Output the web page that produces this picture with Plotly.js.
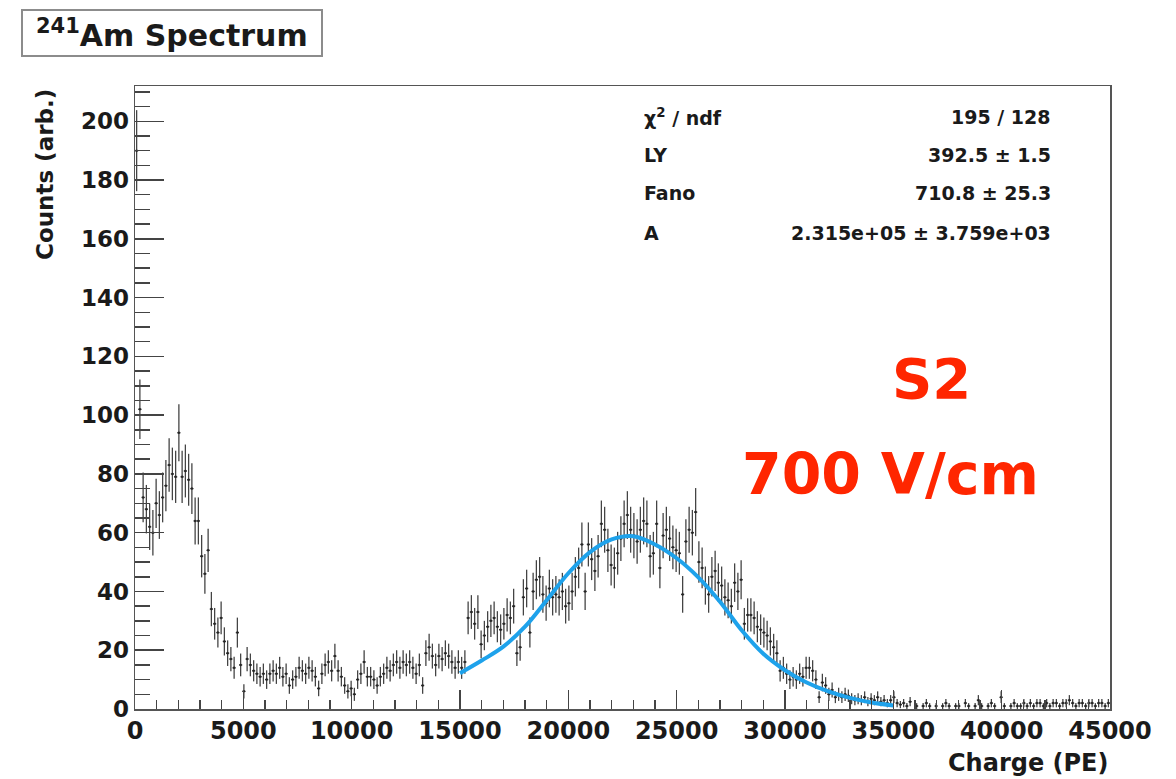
<!DOCTYPE html>
<html>
<head>
<meta charset="utf-8">
<script src="https://cdn.plot.ly/plotly-3.0.1.min.js"></script>
<style>
  html, body { margin: 0; padding: 0; background: #ffffff; }
  #chart { width: 1176px; height: 779px; }
</style>
</head>
<body>
<div id="chart"></div>
<script>
// ---------- Data ----------
const histXMin = 0;
const histXMax = 45000;
const histNBins = 300;

// Bin contents, bin 0 .. 299 (bin width 150 PE)
const counts = [
  190, 102, 72, 68, 62, 60, 70, 66, 72, 76,
  83, 80, 79, 94, 79, 81, 78, 75, 64, 64,
  52, 46, 54, 34, 29, 26, 31, 23, 19, 17,
  14, 26, 15, 6, 17, 15, 13, 12, 11, 12,
  10, 12, 13, 12, 14, 11, 12, 8, 10, 11,
  14, 13, 12, 14, 13, 11, 7, 12, 15, 16,
  13, 18, 13, 11, 8, 6, 7, 5, 10, 12,
  16, 11, 11, 10, 8, 11, 12, 14, 13, 15,
  16, 14, 16, 15, 16, 14, 12, 15, 8, 19,
  21, 18, 15, 18, 17, 19, 18, 16, 14, 16,
  14, 16, 31, 33, 29, 33, 22, 25, 28, 30,
  31, 28, 27, 29, 32, 31, 35, 19, 21, 38,
  41, 26, 40, 44, 45, 39, 36, 41, 38, 39,
  38, 40, 35, 36, 40, 45, 48, 56, 40, 56,
  51, 47, 52, 63, 61, 54, 49, 48, 53, 58,
  63, 66, 61, 59, 57, 61, 64, 63, 52, 53,
  63, 48, 59, 61, 58, 55, 54, 53, 39, 57,
  61, 60, 67, 50, 48, 42, 39, 45, 47, 43,
  42, 38, 37, 35, 43, 40, 44, 29, 32, 32,
  31, 28, 27, 26, 25, 23, 21, 19, 13, 14,
  12, 10, 11, 10, 12, 11, 14, 14, 13, 10,
  4, 9, 8, 5, 6.5, 4, 5, 4, 5, 4.5,
  3.5, 3, 3.5, 3, 4, 2.5, 3.5, 3, 4, 2.5,
  3, 2, 3, 4, 2, 1.5, 2, 1, 2.5, 0,
  1, 0, 1, 2, 1, 0, 1, 0, 1, 2,
  1, 0, 1, 1, 0, 2, 1, 0, 1, 3,
  1, 0, 1, 2, 1, 0, 4, 1, 0, 1,
  2, 1, 1, 2, 1, 2, 1, 2, 2, 1,
  2, 1, 2, 2, 1, 2, 2, 3, 2, 1,
  2, 2, 1, 2, 2, 1, 2, 2, 1, 2
];

// Fit curve, points
const fitX = [15000, 16000, 17000, 18000, 19000, 20000, 21000, 22000, 23000, 24000,
              25000, 26000, 27000, 28000, 29000, 30000, 31000, 32000, 33000, 34000, 35000];
const fitY = [12.2, 16.5, 21.2, 28.0, 37.0, 46.2, 53.4, 57.7, 58.8, 56.0,
              51.3, 44.8, 36.5, 26.8, 18.8, 13.2, 9.0, 6.0, 3.8, 2.2, 1.2];

// Stats box
const statNames = ["χ<sup>2</sup> / ndf", "LY", "Fano", "A"];
const statValues = ["195 / 128", "392.5 ± 1.5", "710.8 ± 25.3", "2.315e+05 ± 3.759e+03"];

const xTickVals = [0, 5000, 10000, 15000, 20000, 25000, 30000, 35000, 40000, 45000];
const yTickVals = [0, 20, 40, 60, 80, 100, 120, 140, 160, 180, 200];

// ---------- Build traces ----------
const binWidth = (histXMax - histXMin) / histNBins;
const centers = counts.map((_, i) => histXMin + (i + 0.5) * binWidth);
const yShown = counts.map(v => (v > 0 ? v : null));
const yErr = counts.map(v => (v > 0 ? Math.sqrt(v) : null));

const dataColor = 'rgba(35,35,35,0.85)';

const histTrace = {
  type: 'scatter',
  mode: 'markers',
  x: centers,
  y: yShown,
  marker: { color: dataColor, size: 2.5 },
  error_y: { type: 'data', array: yErr, visible: true, thickness: 1.3, width: 0, color: dataColor },
  error_x: { type: 'constant', value: binWidth / 2, visible: true, thickness: 1.3, width: 0, color: dataColor },
  hoverinfo: 'x+y',
  showlegend: false,
  cliponaxis: true
};

const fitTrace = {
  type: 'scatter',
  mode: 'lines',
  x: fitX,
  y: fitY,
  line: { color: 'rgb(30,162,235)', width: 4, shape: 'spline', smoothing: 1 },
  showlegend: false,
  hoverinfo: 'skip'
};

// ---------- Layout ----------
const W = 1176, H = 779;
const L = 135, R = 66, T = 86, B = 70;
const pw = W - L - R, ph = H - T - B;
const px = x => (x - L) / pw;          // pixel -> paper x
const py = y => (H - B - y) / ph;      // pixel -> paper y

const FONT = 'DejaVu Sans, Liberation Sans, Arial, sans-serif';
const txt = '#1a1a1a';

const annotations = [];
// Title
annotations.push({
  xref: 'paper', yref: 'paper', x: px(172), y: py(33),
  xanchor: 'center', yanchor: 'middle', showarrow: false,
  text: '<sup>241</sup>Am Spectrum',
  font: { family: FONT, size: 30, color: txt, weight: 'bold' }
});
// Axis titles
annotations.push({
  xref: 'paper', yref: 'paper', x: px(45), y: py(175),
  xanchor: 'center', yanchor: 'middle', showarrow: false, textangle: -90,
  text: 'Counts (arb.)',
  font: { family: FONT, size: 23, color: txt, weight: 'bold' }
});
annotations.push({
  xref: 'paper', yref: 'paper', x: px(1110), y: py(763),
  xanchor: 'right', yanchor: 'middle', showarrow: false,
  text: 'Charge (PE)',
  font: { family: FONT, size: 24, color: txt, weight: 'bold' }
});
// Stats
const statRowsY = [117, 155, 193, 233];
statNames.forEach((n, i) => {
  annotations.push({
    xref: 'paper', yref: 'paper', x: px(642), y: py(statRowsY[i]),
    xanchor: 'left', yanchor: 'middle', showarrow: false, text: n,
    font: { family: FONT, size: 19, color: txt, weight: 'bold' }
  });
  annotations.push({
    xref: 'paper', yref: 'paper', x: px(1053), y: py(statRowsY[i]),
    xanchor: 'right', yanchor: 'middle', showarrow: false, text: statValues[i],
    font: { family: FONT, size: 19, color: txt, weight: 'bold' }
  });
});
// Red labels
annotations.push({
  xref: 'paper', yref: 'paper', x: px(931), y: py(378),
  xanchor: 'center', yanchor: 'middle', showarrow: false, text: 'S2',
  font: { family: FONT, size: 56, color: 'rgb(255,38,0)', weight: 'bold' }
});
annotations.push({
  xref: 'paper', yref: 'paper', x: px(890), y: py(474),
  xanchor: 'center', yanchor: 'middle', showarrow: false, text: '700 V/cm',
  font: { family: FONT, size: 57, color: 'rgb(255,38,0)', weight: 'bold' }
});

const shapes = [{
  type: 'rect', xref: 'paper', yref: 'paper',
  x0: px(22), x1: px(322), y0: py(56), y1: py(10),
  line: { color: '#8c8c8c', width: 2 }, fillcolor: 'rgba(0,0,0,0)', layer: 'above'
}];

const axisCommon = {
  showgrid: false, zeroline: false, showline: true, mirror: true,
  linecolor: '#555555', linewidth: 1.5,
  ticks: 'inside', tickcolor: '#444444', tickwidth: 1.5,
  tickformat: 'd', fixedrange: true
};

const layout = {
  width: W, height: H,
  margin: { l: L, r: R, t: T, b: B, pad: 0 },
  paper_bgcolor: '#ffffff', plot_bgcolor: '#ffffff',
  xaxis: Object.assign({}, axisCommon, {
    range: [histXMin, histXMax], tickmode: 'array', tickvals: xTickVals,
    ticktext: xTickVals.map(String), ticklen: 19,
    tickfont: { family: FONT, size: 24, color: txt, weight: 'bold' },
    minor: { dtick: 1000, ticklen: 9, ticks: 'inside', tickcolor: '#444444', tickwidth: 1.5 }
  }),
  yaxis: Object.assign({}, axisCommon, {
    range: [0, 212], tickmode: 'array', tickvals: yTickVals,
    ticktext: yTickVals.map(String), ticklen: 29,
    tickfont: { family: FONT, size: 23, color: txt, weight: 'bold' },
    minor: { dtick: 5, tick0: 0, ticklen: 15, ticks: 'inside', tickcolor: '#444444', tickwidth: 1.5 }
  }),
  annotations: annotations,
  shapes: shapes,
  showlegend: false
};

Plotly.newPlot('chart', [histTrace, fitTrace], layout, { displayModeBar: false, staticPlot: true });
</script>
</body>
</html>
